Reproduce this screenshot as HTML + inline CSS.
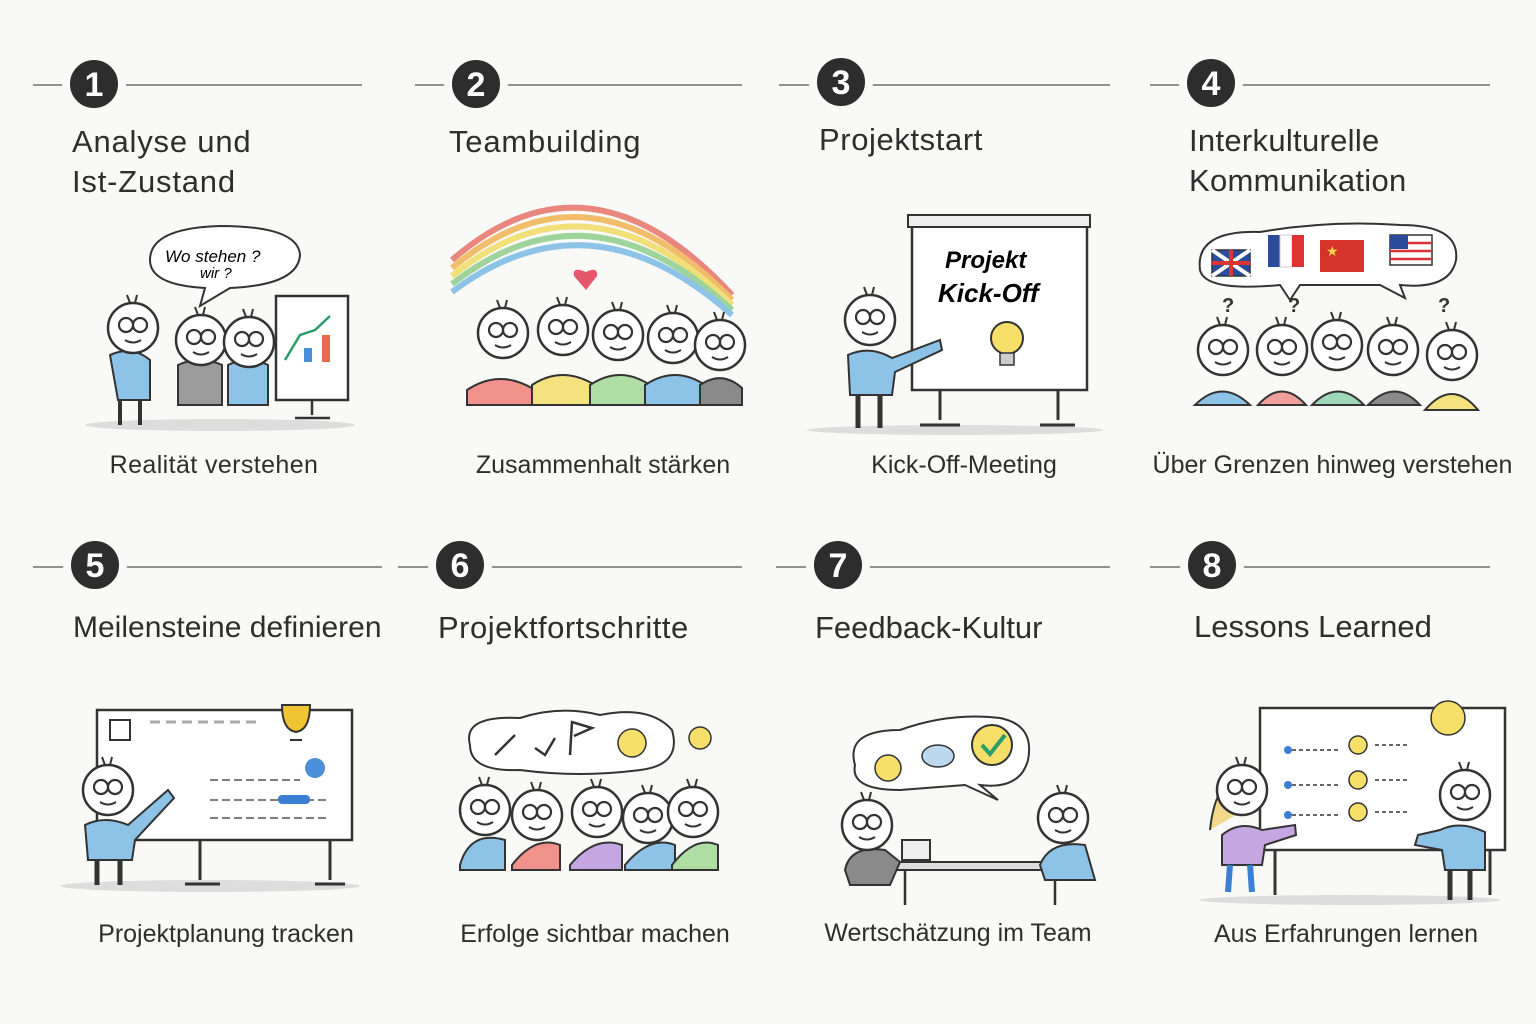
<!DOCTYPE html>
<html><head><meta charset="utf-8">
<style>
html,body{margin:0;padding:0;background:#f9f9f8;}
body{width:1536px;height:1024px;position:relative;overflow:hidden;font-family:"Liberation Sans",sans-serif;color:#2a2a2a;}
.t{position:absolute;font-size:31px;line-height:40px;color:#2e2e2e;}
.c{position:absolute;font-size:25px;color:#2e2e2e;text-align:center;}
svg{position:absolute;left:0;top:0;}
</style></head><body>
<svg width="1536" height="1024" viewBox="0 0 1536 1024">
<defs>
<g id="hd">
 <circle cx="0" cy="0" r="25" fill="#fff" stroke="#333" stroke-width="2.5"/>
 <circle cx="-7" cy="-3" r="7" fill="none" stroke="#333" stroke-width="2.2"/>
 <circle cx="7" cy="-3" r="7" fill="none" stroke="#333" stroke-width="2.2"/>
 <path d="M-8 12 Q0 17 8 12" fill="none" stroke="#333" stroke-width="2"/>
 <path d="M-3 -25 L-6 -33 M2 -25 L4 -33" stroke="#333" stroke-width="2"/>
</g>
</defs>
<g stroke="#555" stroke-width="1.2">
<line x1="33" y1="85" x2="362" y2="85"/><line x1="415" y1="85" x2="742" y2="85"/>
<line x1="779" y1="85" x2="1110" y2="85"/><line x1="1150" y1="85" x2="1490" y2="85"/>
<line x1="33" y1="567" x2="382" y2="567"/><line x1="398" y1="567" x2="742" y2="567"/>
<line x1="776" y1="567" x2="1110" y2="567"/><line x1="1150" y1="567" x2="1490" y2="567"/>
</g>
<g fill="#2d2d2d" stroke="#f9f9f8" stroke-width="8">
<circle cx="94" cy="84" r="28"/><circle cx="476" cy="84" r="28"/><circle cx="841" cy="82" r="28"/><circle cx="1211" cy="83" r="28"/>
<circle cx="95" cy="565" r="28"/><circle cx="460" cy="565" r="28"/><circle cx="838" cy="565" r="28"/><circle cx="1212" cy="565" r="28"/>
</g>
<g fill="#fff" font-size="34" font-weight="bold" text-anchor="middle" font-family="Liberation Sans,sans-serif">
<text x="94" y="96">1</text><text x="476" y="96">2</text><text x="841" y="94">3</text><text x="1211" y="95">4</text>
<text x="95" y="577">5</text><text x="460" y="577">6</text><text x="838" y="577">7</text><text x="1212" y="577">8</text>
</g>

<!-- Panel 1 -->
<ellipse cx="220" cy="425" rx="135" ry="6" fill="#ddd"/>
<path d="M150 260 Q150 228 220 226 Q298 226 300 255 Q298 285 230 288 L200 306 L205 288 Q150 285 150 260Z" fill="#fff" stroke="#333" stroke-width="2"/>
<text x="165" y="262" font-size="17" font-family="Liberation Sans" font-style="italic">Wo stehen ?</text>
<text x="200" y="278" font-size="15" font-family="Liberation Sans" font-style="italic">wir ?</text>
<rect x="276" y="296" width="72" height="104" fill="#fff" stroke="#333" stroke-width="2.5"/>
<rect x="304" y="348" width="8" height="14" fill="#4a8fd8"/><rect x="322" y="335" width="8" height="27" fill="#e56b4a"/>
<path d="M285 360 L300 335 L315 330 L330 316" stroke="#2a9d6a" stroke-width="2.5" fill="none"/>
<path d="M312 400 L312 415 M295 418 L330 418" stroke="#333" stroke-width="2.5"/>
<path d="M110 355 Q132 345 150 360 L150 400 L118 400 Z" fill="#8ec3e8" stroke="#333" stroke-width="2"/>
<path d="M120 400 L120 425 M140 400 L140 425" stroke="#333" stroke-width="4"/>
<path d="M178 365 Q200 355 222 365 L222 405 L178 405Z" fill="#9b9b9b" stroke="#333" stroke-width="2"/>
<path d="M228 365 Q248 355 268 365 L268 405 L228 405Z" fill="#8ec3e8" stroke="#333" stroke-width="2"/>
<use href="#hd" x="133" y="328"/><use href="#hd" x="201" y="340"/><use href="#hd" x="249" y="342"/>

<!-- Panel 2 -->
<g fill="none" stroke-width="6">
<path d="M452 260 Q590 140 732 295" stroke="#e9877f"/><path d="M452 268 Q590 152 732 300" stroke="#f2bd6a"/>
<path d="M452 276 Q590 164 732 305" stroke="#f1e07a"/><path d="M452 284 Q590 176 732 310" stroke="#9ed49b"/>
<path d="M452 292 Q590 188 732 315" stroke="#8ec3e8"/>
</g>
<path d="M586 290 L574 276 Q572 266 586 272 Q598 266 597 276Z" fill="#e5586b"/>
<g stroke="#333" stroke-width="2">
<path d="M467 390 Q500 368 535 390 L535 405 L467 405Z" fill="#f0928a"/>
<path d="M532 385 Q562 365 595 385 L595 405 L532 405Z" fill="#f4e27f"/>
<path d="M590 385 Q620 365 650 385 L650 405 L590 405Z" fill="#aedea4"/>
<path d="M645 385 Q675 365 705 385 L705 405 L645 405Z" fill="#8ec3e8"/>
<path d="M700 385 Q722 370 742 388 L742 405 L700 405Z" fill="#8a8a8a"/>
</g>
<use href="#hd" x="503" y="333"/><use href="#hd" x="563" y="330"/><use href="#hd" x="618" y="335"/><use href="#hd" x="673" y="338"/><use href="#hd" x="720" y="345"/>

<!-- Panel 3 -->
<ellipse cx="955" cy="430" rx="148" ry="5" fill="#ddd"/>
<rect x="912" y="220" width="175" height="170" fill="#fff" stroke="#333" stroke-width="2.5"/>
<rect x="908" y="215" width="182" height="12" fill="#eee" stroke="#333" stroke-width="2"/>
<text x="945" y="268" font-size="24" font-family="Liberation Sans" font-weight="bold" font-style="italic">Projekt</text>
<text x="938" y="302" font-size="26" font-family="Liberation Sans" font-weight="bold" font-style="italic">Kick-Off</text>
<circle cx="1007" cy="338" r="16" fill="#f6e06a" stroke="#333" stroke-width="2"/>
<rect x="1000" y="353" width="14" height="12" fill="#ccc" stroke="#333" stroke-width="1.5"/>
<path d="M940 390 L940 420 M1058 390 L1058 420 M920 425 L960 425 M1040 425 L1075 425" stroke="#333" stroke-width="3"/>
<path d="M848 355 Q870 345 892 358 L940 340 L942 350 L895 372 L892 395 L850 395Z" fill="#8ec3e8" stroke="#333" stroke-width="2"/>
<path d="M858 395 L858 428 M880 395 L880 428" stroke="#333" stroke-width="5"/>
<use href="#hd" x="870" y="320"/>

<!-- Panel 4 -->
<path d="M1200 270 Q1195 230 1260 232 Q1330 220 1400 225 Q1460 225 1456 260 Q1450 290 1400 285 L1405 298 L1380 285 L1300 285 L1290 300 L1280 285 Q1205 292 1200 270Z" fill="#fff" stroke="#333" stroke-width="2"/>
<rect x="1212" y="250" width="38" height="26" fill="#2a4c9a" stroke="#333" stroke-width="1.5"/>
<path d="M1212 250 L1250 276 M1250 250 L1212 276" stroke="#fff" stroke-width="4"/><path d="M1231 250 V276 M1212 263 H1250" stroke="#d33" stroke-width="4"/>
<rect x="1268" y="235" width="12" height="32" fill="#2a4c9a"/><rect x="1280" y="235" width="12" height="32" fill="#fff" stroke="#ccc"/><rect x="1292" y="235" width="12" height="32" fill="#d33"/>
<rect x="1320" y="240" width="44" height="32" fill="#d6332a"/><text x="1326" y="256" fill="#f6d64a" font-size="14">★</text>
<rect x="1390" y="235" width="42" height="30" fill="#fff" stroke="#333" stroke-width="1.5"/>
<g stroke="#d33" stroke-width="2.5"><line x1="1390" y1="243" x2="1432" y2="243"/><line x1="1390" y1="251" x2="1432" y2="251"/><line x1="1390" y1="259" x2="1432" y2="259"/></g>
<rect x="1390" y="235" width="18" height="14" fill="#2a4c9a"/>
<g stroke="#333" stroke-width="2">
<path d="M1195 405 Q1222 378 1250 405Z" fill="#8ec3e8"/><path d="M1258 405 Q1282 378 1306 405Z" fill="#f0a09a"/>
<path d="M1312 405 Q1338 378 1364 405Z" fill="#9ed8b8"/><path d="M1368 405 Q1395 378 1420 405Z" fill="#8a8a8a"/>
<path d="M1425 410 Q1452 378 1478 410Z" fill="#f4e27f"/>
</g>
<use href="#hd" x="1223" y="350"/><use href="#hd" x="1282" y="350"/><use href="#hd" x="1337" y="345"/><use href="#hd" x="1393" y="350"/><use href="#hd" x="1452" y="355"/>
<g font-size="20" font-weight="bold" fill="#333"><text x="1222" y="312">?</text><text x="1288" y="312">?</text><text x="1438" y="312">?</text></g>

<!-- Panel 5 -->
<ellipse cx="210" cy="886" rx="150" ry="6" fill="#ddd"/>
<rect x="97" y="710" width="255" height="130" fill="#fff" stroke="#333" stroke-width="2.5"/>
<rect x="110" y="720" width="20" height="20" fill="none" stroke="#333" stroke-width="2"/>
<path d="M150 722 H260" stroke="#aaa" stroke-width="3" stroke-dasharray="10 6"/>
<path d="M282 705 L310 705 Q310 730 296 732 Q282 730 282 705Z M290 740 H302" fill="#f0c433" stroke="#333" stroke-width="2"/>
<path d="M210 780 L300 780 M210 800 L330 800 M210 818 L330 818" stroke="#555" stroke-width="1.5" stroke-dasharray="8 4"/>
<rect x="278" y="795" width="32" height="9" rx="4" fill="#3b7fd4"/>
<circle cx="315" cy="768" r="10" fill="#4a8fd8"/>
<path d="M200 840 V880 M330 840 V880 M185 884 H220 M315 884 H345" stroke="#333" stroke-width="3"/>
<path d="M85 825 Q105 815 128 825 L168 790 L174 798 L135 840 L132 860 L88 860Z" fill="#8ec3e8" stroke="#333" stroke-width="2"/>
<path d="M97 860 L97 885 M120 860 L120 885" stroke="#333" stroke-width="5"/>
<use href="#hd" x="108" y="790"/>

<!-- Panel 6 -->
<path d="M470 745 Q462 715 520 718 Q560 705 600 715 Q650 705 672 730 Q682 765 640 770 Q580 778 520 770 Q470 772 470 745Z" fill="#fff" stroke="#333" stroke-width="2"/>
<path d="M495 755 L515 735 M535 748 L545 755 L555 738 M570 755 L572 722 L592 728 L574 736" stroke="#333" stroke-width="2.5" fill="none"/>
<circle cx="632" cy="743" r="14" fill="#f6e06a" stroke="#333" stroke-width="1.5"/>
<circle cx="700" cy="738" r="11" fill="#f6e06a" stroke="#333" stroke-width="1.5"/>
<g stroke="#333" stroke-width="2">
<path d="M460 865 Q470 830 505 840 L505 870 L460 870Z" fill="#8ec3e8"/>
<path d="M512 865 Q535 835 560 845 L560 870 L512 870Z" fill="#f0928a"/>
<path d="M570 865 Q595 835 622 845 L622 870 L570 870Z" fill="#c6a6e0"/>
<path d="M625 865 Q650 835 675 845 L675 870 L625 870Z" fill="#8ec3e8"/>
<path d="M672 865 Q695 835 718 845 L718 870 L672 870Z" fill="#aedea4"/>
</g>
<use href="#hd" x="485" y="810"/><use href="#hd" x="537" y="815"/><use href="#hd" x="597" y="812"/><use href="#hd" x="648" y="818"/><use href="#hd" x="693" y="812"/>

<!-- Panel 7 -->
<path d="M855 765 Q845 730 900 730 Q950 712 1000 718 Q1035 725 1028 760 Q1020 790 980 785 L998 800 L965 785 L900 790 Q850 790 855 765Z" fill="#fff" stroke="#333" stroke-width="2"/>
<circle cx="888" cy="768" r="13" fill="#f6e06a" stroke="#333" stroke-width="1.5"/>
<ellipse cx="938" cy="756" rx="16" ry="11" fill="#bcd8ef" stroke="#333" stroke-width="1.5"/>
<circle cx="992" cy="745" r="20" fill="#f6e06a" stroke="#333" stroke-width="2"/>
<path d="M982 745 L990 754 L1005 735" stroke="#2a9d6a" stroke-width="4" fill="none"/>
<path d="M870 862 L1080 862 L1070 870 L878 870Z" fill="#ddd" stroke="#333" stroke-width="2"/>
<path d="M905 870 V905 M1055 870 V905" stroke="#333" stroke-width="2.5"/>
<path d="M845 870 Q850 845 885 850 L900 862 L890 885 L850 885Z" fill="#8a8a8a" stroke="#333" stroke-width="2"/>
<path d="M1040 865 Q1050 840 1085 845 L1095 880 L1045 880Z" fill="#8ec3e8" stroke="#333" stroke-width="2"/>
<rect x="902" y="840" width="28" height="20" fill="#eee" stroke="#333" stroke-width="2"/>
<use href="#hd" x="867" y="825"/><use href="#hd" x="1063" y="818"/>

<!-- Panel 8 -->
<ellipse cx="1350" cy="900" rx="150" ry="5" fill="#ddd"/>
<rect x="1260" y="708" width="245" height="142" fill="#fff" stroke="#333" stroke-width="2.5"/>
<g stroke="#333" stroke-width="1.5" fill="none">
<path d="M1285 750 H1340 M1375 745 H1410 M1285 785 H1340 M1375 780 H1410 M1285 815 H1340 M1375 812 H1410" stroke-dasharray="4 3"/>
</g>
<g fill="#3b7fd4"><circle cx="1288" cy="750" r="4"/><circle cx="1288" cy="785" r="4"/><circle cx="1288" cy="815" r="4"/></g>
<g fill="#f6e06a" stroke="#333" stroke-width="1.5"><circle cx="1358" cy="745" r="9"/><circle cx="1358" cy="780" r="9"/><circle cx="1358" cy="812" r="9"/><circle cx="1448" cy="718" r="17"/></g>
<path d="M1275 850 V895 M1490 850 V895" stroke="#333" stroke-width="3"/>
<path d="M1222 835 Q1240 820 1262 830 L1295 825 L1296 835 L1265 845 L1262 865 L1222 865Z" fill="#c6a6e0" stroke="#333" stroke-width="2"/>
<path d="M1210 830 Q1215 780 1245 768 Q1268 780 1262 800" fill="#f2d98a" stroke="#333" stroke-width="2"/>
<path d="M1230 865 L1228 892 M1250 865 L1252 892" stroke="#3b7fd4" stroke-width="6"/>
<path d="M1440 830 Q1460 820 1485 832 L1485 870 L1445 870 L1442 850 L1415 845 L1418 835Z" fill="#8ec3e8" stroke="#333" stroke-width="2"/>
<path d="M1450 870 V900 M1470 870 V900" stroke="#333" stroke-width="5"/>
<use href="#hd" x="1242" y="790"/><use href="#hd" x="1465" y="795"/>
</svg>

<div class="t" style="left:72px;top:122px;letter-spacing:0.8px">Analyse und<br>Ist-Zustand</div>
<div class="t" style="left:449px;top:122px;letter-spacing:0.8px">Teambuilding</div>
<div class="t" style="left:819px;top:120px;letter-spacing:0.6px">Projektstart</div>
<div class="t" style="left:1189px;top:121px;letter-spacing:0.3px">Interkulturelle<br>Kommunikation</div>
<div class="t" style="left:73px;top:608px;font-size:30px">Meilensteine definieren</div>
<div class="t" style="left:438px;top:608px;letter-spacing:0.5px">Projektfortschritte</div>
<div class="t" style="left:815px;top:608px">Feedback-Kultur</div>
<div class="t" style="left:1194px;top:607px">Lessons Learned</div>

<div class="c" style="left:44px;width:340px;top:451px;letter-spacing:0.4px">Realität verstehen</div>
<div class="c" style="left:433px;width:340px;top:451px">Zusammenhalt stärken</div>
<div class="c" style="left:794px;width:340px;top:451px">Kick-Off-Meeting</div>
<div class="c" style="left:1130px;width:405px;top:451px">Über Grenzen hinweg verstehen</div>
<div class="c" style="left:56px;width:340px;top:920px">Projektplanung tracken</div>
<div class="c" style="left:425px;width:340px;top:920px">Erfolge sichtbar machen</div>
<div class="c" style="left:788px;width:340px;top:919px">Wertschätzung im Team</div>
<div class="c" style="left:1176px;width:340px;top:920px">Aus Erfahrungen lernen</div>
</body></html>
